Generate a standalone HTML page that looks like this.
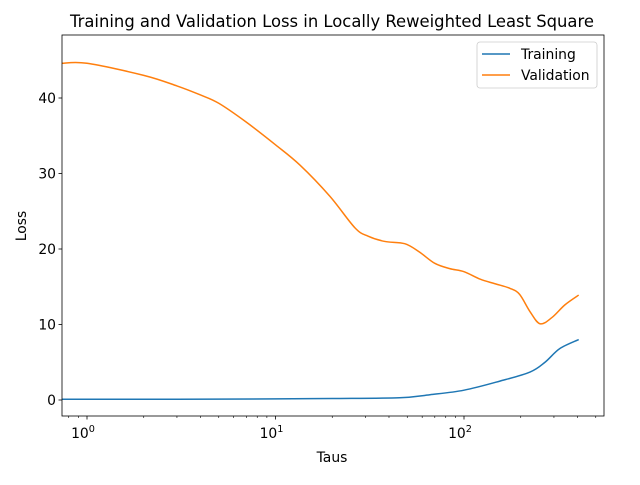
<!DOCTYPE html>
<html><head><meta charset="utf-8"><style>
body{margin:0;background:#fff;font-family:"Liberation Sans","DejaVu Sans",sans-serif}
svg text{font-family:"DejaVu Sans","Liberation Sans",sans-serif;font-size:13.9px;fill:#000}
</style></head><body>
<svg id="chart" width="640" height="480">
<rect width="640" height="480" fill="#fff"/>
<text x="332" y="27" text-anchor="middle" style="font-size:16.4px">Training and Validation Loss in Locally Reweighted Least Square</text>
<g id="plot"></g>
<text x="332" y="462" text-anchor="middle">Taus</text>
<text x="26" y="226" text-anchor="middle" transform="rotate(-90 26 226)">Loss</text>
</svg>
<script>
const trainTaus=[0.737,1,3,10,20,45.5,66,100,155,224,269,322,406];
const trainVals=[0.1,0.1,0.1,0.15,0.2,0.3,0.7,1.3,2.5,3.7,5,6.8,8.0];
const valTaus=[0.737,1,2,3,4,5,7,10,13.5,19.4,26.4,31,38,48.5,58,70,84,100,122,146,175,197,224,253,292,343,406];
const valVals=[44.6,44.6,43.0,41.6,40.4,39.3,36.8,33.8,31.1,27.0,22.8,21.7,21.0,20.7,19.6,18.1,17.4,17.0,16.0,15.4,14.8,14.0,11.7,10.1,10.9,12.6,13.9];
const yTicks=[0,10,20,30,40];
const xTickExps=[0,1,2];
const L=62,R=604,T=35,B=416;
const xs=t=>87+188.5*Math.log10(t);
const ys=v=>400-7.55*v;
const NS="http://www.w3.org/2000/svg";
const g=document.getElementById('plot');
function mk(tag,at,par){const e=document.createElementNS(NS,tag);for(const k in at)e.setAttribute(k,at[k]);(par||g).appendChild(e);return e;}
function path(ts,vs){const p=ts.map((t,i)=>[xs(t),ys(vs[i])]);let d="M"+p[0][0]+","+p[0][1];
for(let i=0;i<p.length-1;i++){const p0=p[Math.max(0,i-1)],p1=p[i],p2=p[i+1],p3=p[Math.min(p.length-1,i+2)];
d+=" C"+(p1[0]+(p2[0]-p0[0])/6)+","+(p1[1]+(p2[1]-p0[1])/6)+" "+(p2[0]-(p3[0]-p1[0])/6)+","+(p2[1]-(p3[1]-p1[1])/6)+" "+p2[0]+","+p2[1];}return d;}
const cp=mk('clipPath',{id:'cp'});
mk('rect',{x:L,y:T,width:R-L,height:B-T},cp);
const tl=mk('path',{d:path(trainTaus,trainVals),fill:'none',stroke:'#1f77b4','stroke-width':1.5,'clip-path':'url(#cp)'});


const vl=mk('path',{d:path(valTaus,valVals),fill:'none',stroke:'#ff7f0e','stroke-width':1.5,'clip-path':'url(#cp)'});


mk('rect',{x:L,y:T,width:R-L,height:B-T,fill:'none',stroke:'#000','stroke-width':0.8});
yTicks.forEach(v=>{const y=ys(v);mk('line',{x1:L-3.5,x2:L,y1:y,y2:y,stroke:'#000','stroke-width':0.8});
const t=mk('text',{x:L-6,y:y+5,'text-anchor':'end'});t.textContent=v;

});
xTickExps.forEach(e=>{const x=xs(Math.pow(10,e));mk('line',{x1:x,x2:x,y1:B,y2:B+3.5,stroke:'#000','stroke-width':0.8});
const t=mk('text',{x:x-4,y:B+22,'text-anchor':'middle'});t.textContent='10';
const s=mk('tspan',{dy:-6,style:'font-size:9.7px'},t);s.textContent=e;

});
for(let e=-1;e<3;e++)for(let m=2;m<10;m++){const x=xs(m*Math.pow(10,e));if(x>L&&x<R)mk('line',{x1:x,x2:x,y1:B,y2:B+2,stroke:'#000','stroke-width':0.6});}
const lg=mk('g',{});


mk('rect',{x:477,y:42,width:120,height:46,rx:3,fill:'#fff',stroke:'#ccc','stroke-width':0.8},lg);
mk('line',{x1:482,x2:510,y1:54,y2:54,stroke:'#1f77b4','stroke-width':1.5},lg);
mk('line',{x1:482,x2:510,y1:75,y2:75,stroke:'#ff7f0e','stroke-width':1.5},lg);
const a=mk('text',{x:521,y:59},lg);a.textContent='Training';


const b=mk('text',{x:521,y:80},lg);b.textContent='Validation';


</script>
</body></html>
